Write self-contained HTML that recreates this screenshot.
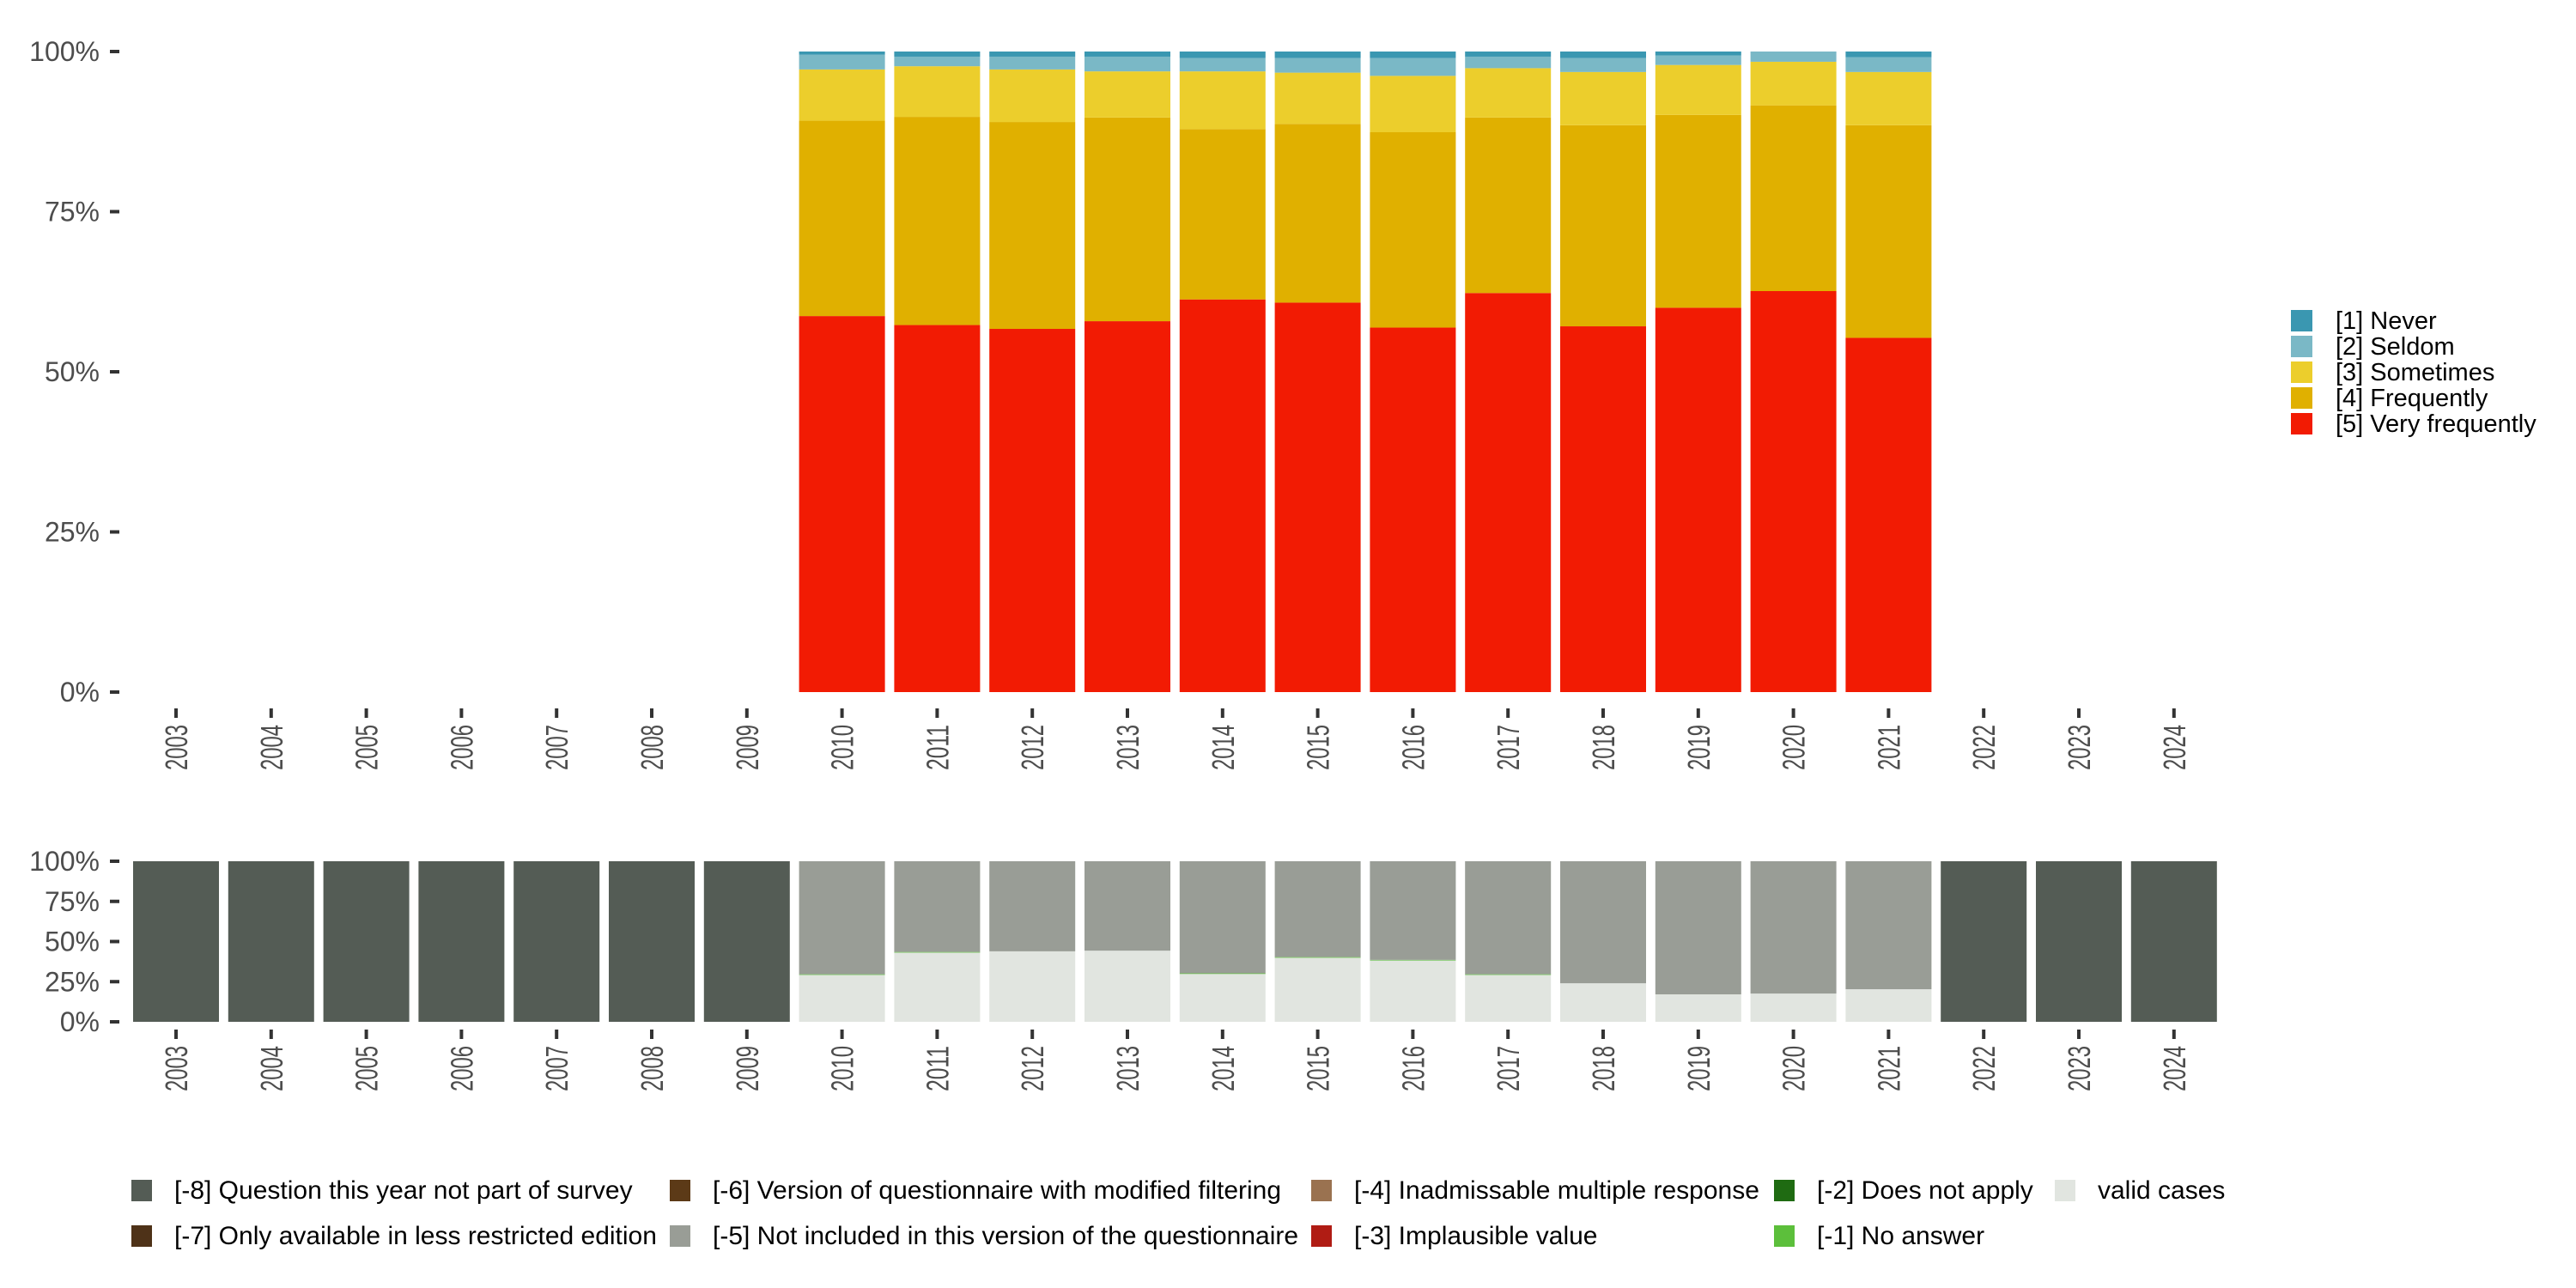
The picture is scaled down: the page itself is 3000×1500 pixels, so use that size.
<!DOCTYPE html>
<html><head><meta charset="utf-8"><style>
html,body{margin:0;padding:0;background:#fff;}
svg{display:block;font-family:"Liberation Sans",sans-serif;}
</style></head><body>
<svg id="chart" width="3000" height="1500" viewBox="0 0 3000 1500" xmlns="http://www.w3.org/2000/svg"></svg>
<script>
const years = [2003,2004,2005,2006,2007,2008,2009,2010,2011,2012,2013,2014,2015,2016,2017,2018,2019,2020,2021,2022,2023,2024];
// top chart: shares per response category (null = no data)
const veryFrequently = [null,null,null,null,null,null,null,0.587,0.573,0.567,0.579,0.613,0.608,0.569,0.623,0.571,0.600,0.626,0.553,null,null,null];
const frequently     = [null,null,null,null,null,null,null,0.305,0.325,0.323,0.318,0.266,0.279,0.305,0.274,0.314,0.301,0.290,0.332,null,null,null];
const sometimes      = [null,null,null,null,null,null,null,0.080,0.079,0.082,0.072,0.090,0.080,0.088,0.077,0.083,0.078,0.068,0.083,null,null,null];
const seldom         = [null,null,null,null,null,null,null,0.023,0.015,0.020,0.023,0.021,0.023,0.028,0.018,0.022,0.015,0.016,0.023,null,null,null];
const never          = [null,null,null,null,null,null,null,0.005,0.008,0.008,0.008,0.010,0.010,0.010,0.008,0.010,0.006,0.000,0.009,null,null,null];
// bottom chart
const validCases   = [0,0,0,0,0,0,0,0.292,0.431,0.439,0.443,0.298,0.399,0.382,0.292,0.240,0.171,0.176,0.203,0,0,0];
const noAnswer     = [0,0,0,0,0,0,0,0.004,0.004,0,0,0.004,0.004,0.004,0.004,0,0,0,0,0,0,0];
const notIncluded  = [0,0,0,0,0,0,0,0.704,0.565,0.561,0.557,0.698,0.597,0.614,0.704,0.760,0.829,0.824,0.797,0,0,0];
const notInSurvey  = [1,1,1,1,1,1,1,0,0,0,0,0,0,0,0,0,0,0,0,1,1,1];
const yTicks = [0,0.25,0.5,0.75,1];
const yTickLabels = ["0%","25%","50%","75%","100%"];

const NS="http://www.w3.org/2000/svg";
const svg=document.getElementById('chart');
function mk(tag,attrs,parent){const e=document.createElementNS(NS,tag);for(const k in attrs)e.setAttribute(k,attrs[k]);(parent||svg).appendChild(e);return e;}
const x0=205, pitch=110.8, bw=100;
function xc(i){return x0+i*pitch;}

function panel(top,bottom,series,colors,names,labelY){
  const y=v=>bottom-(bottom-top)*v;
  yTicks.forEach((t,k)=>{
    const ln=mk('line',{x1:128,x2:139,y1:y(t),y2:y(t),stroke:'#333','stroke-width':4});
    
    
    const tx=mk('text',{x:116,y:y(t)+11,'text-anchor':'end','font-size':32,fill:'#4d4d4d'});
    tx.textContent=yTickLabels[k];
    
    
  });
  years.forEach((yr,i)=>{
    let cum=0;
    series.forEach((s,j)=>{
      const v=s[i]; if(v==null||v<=0) return;
      const r=mk('rect',{x:xc(i)-bw/2,y:y(cum+v),width:bw,height:y(cum)-y(cum+v),fill:colors[j]});
      
      
      cum+=v;
    });
    const tk=mk('line',{x1:xc(i),x2:xc(i),y1:labelY,y2:labelY+11,stroke:'#333','stroke-width':4});
    
    
    const tx=mk('text',{x:0,y:0,'text-anchor':'end','font-size':36,fill:'#4d4d4d',textLength:53,lengthAdjust:'spacingAndGlyphs',transform:`translate(${xc(i)+13},${labelY+19}) rotate(-90)`});
    tx.textContent=yr;
    
    
  });
}
panel(60,806,[veryFrequently,frequently,sometimes,seldom,never],['#f21b03','#e0b000','#ecce2c','#7ab8c6','#3a97b1'],['very-frequently','frequently','sometimes','seldom','never'],825);
panel(1003,1190,[validCases,noAnswer,notIncluded,notInSurvey],['#e1e5e0','#5cbf3b','#999d96','#545c55'],['valid','no-answer','not-included','not-in-survey'],1199);

const topLegend=[['[1] Never','#3a97b1'],['[2] Seldom','#7ab8c6'],['[3] Sometimes','#ecce2c'],['[4] Frequently','#e0b000'],['[5] Very frequently','#f21b03']];
topLegend.forEach((e,k)=>{
  const yy=361+k*30;
  const r=mk('rect',{x:2668,y:yy,width:25,height:25,fill:e[1]});
  
  
  const t=mk('text',{x:2720,y:yy+22,'font-size':29,fill:'#000'});
  t.textContent=e[0];
  
  
});
const botLegend=[
 ['[-8] Question this year not part of survey','#545c55',153,1374],
 ['[-7] Only available in less restricted edition','#4e3218',153,1427],
 ['[-6] Version of questionnaire with modified filtering','#5c3a17',780,1374],
 ['[-5] Not included in this version of the questionnaire','#999d96',780,1427],
 ['[-4] Inadmissable multiple response','#9a7250',1527,1374],
 ['[-3] Implausible value','#b01c14',1527,1427],
 ['[-2] Does not apply','#1f6b12',2066,1374],
 ['[-1] No answer','#5cbf3b',2066,1427],
 ['valid cases','#e1e5e0',2393,1374]];
botLegend.forEach(e=>{
  const r=mk('rect',{x:e[2],y:e[3],width:24,height:25,fill:e[1]});
  
  
  const t=mk('text',{x:e[2]+50,y:e[3]+22,'font-size':30,fill:'#000'});
  t.textContent=e[0];
  
  
});
</script>
</body></html>
